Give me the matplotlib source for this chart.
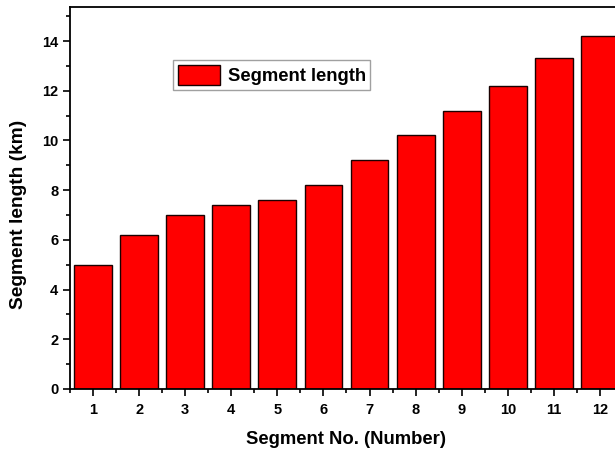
import matplotlib.pyplot as plt
from matplotlib.ticker import MultipleLocator

plt.rcParams['font.family'] = ['Liberation Sans', 'DejaVu Sans']
plt.rcParams['font.weight'] = 'bold'

# data
segments = [1, 2, 3, 4, 5, 6, 7, 8, 9, 10, 11, 12]
lengths = [5.0, 6.2, 7.0, 7.4, 7.6, 8.2, 9.2, 10.2, 11.2, 12.2, 13.3, 14.2]

fig = plt.figure(figsize=(6.15, 4.51), dpi=100)
# right edge of the axes runs past the figure, as in the cropped original
ax = fig.add_axes([70 / 615, 1 - 389 / 451, 553 / 615, 382 / 451])

ax.bar(segments, lengths, width=0.82, color='#ff0000', edgecolor='#1a0000',
       linewidth=1.0, label='Segment length')

ax.set_xlim(0.5, 12.5)
ax.set_ylim(0, 15.37)
ax.xaxis.set_major_locator(MultipleLocator(1))
ax.xaxis.set_minor_locator(MultipleLocator(0.5))
ax.yaxis.set_major_locator(MultipleLocator(2))
ax.yaxis.set_minor_locator(MultipleLocator(1))
ax.tick_params(which='major', direction='out', length=5, width=1.2, labelsize=10.5)
ax.tick_params(which='minor', direction='out', length=3, width=1.2)
ax.tick_params(axis='x', pad=5)

for spine in ax.spines.values():
  spine.set_linewidth(1.3)

ax.set_xlabel('Segment No. (Number)', fontsize=13.3, fontweight='bold', labelpad=10)
ax.set_ylabel('Segment length (km)', fontsize=13.8, fontweight='bold')
ax.yaxis.set_label_coords(-0.078, 0.458)

leg = ax.legend(loc='upper left', bbox_to_anchor=(0.170, 0.885), fontsize=13.3,
                frameon=True, fancybox=False, shadow=False, handlelength=2.3,
                handleheight=1.3, borderpad=0.25, handletextpad=0.4)
leg.get_frame().set_edgecolor('#888888')
leg.get_frame().set_linewidth(1.0)

fig.savefig('out.png', dpi=100)
